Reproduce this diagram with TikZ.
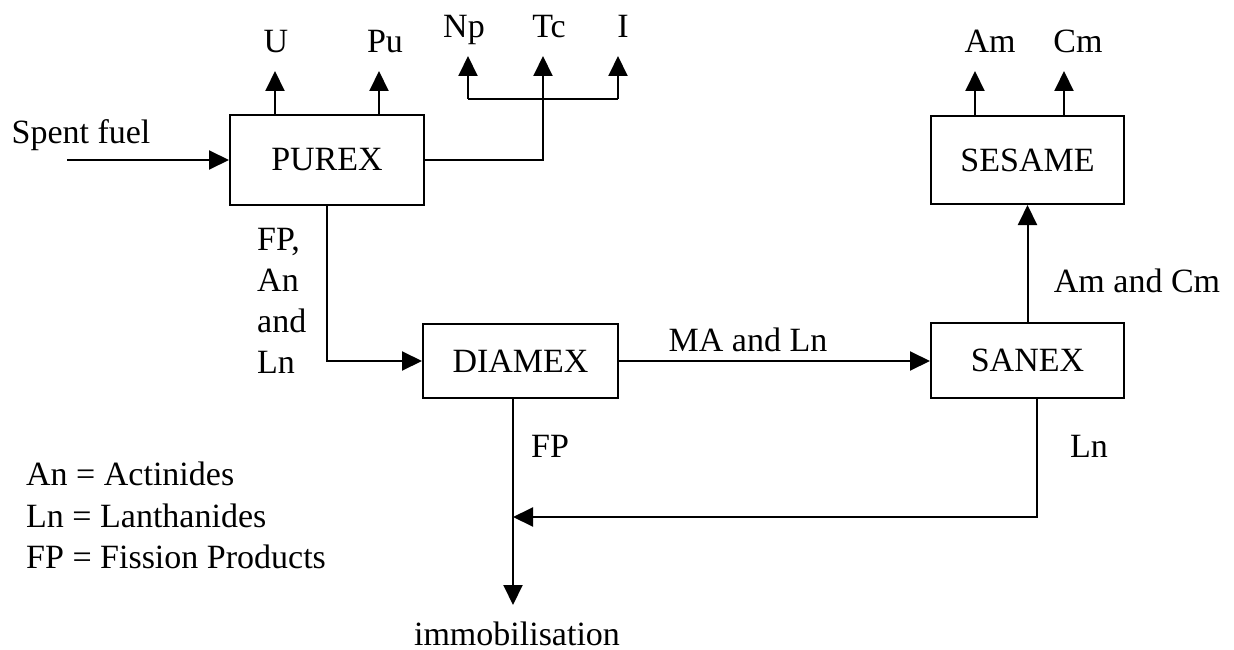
\documentclass[tikz,border=0pt]{standalone}
\usepackage{fontspec}
\setmainfont{Liberation Serif}
\usetikzlibrary{arrows.meta}
\begin{document}
\begin{tikzpicture}[x=1pt,y=-1pt,
  every node/.style={font=\fontsize{34}{41}\selectfont, inner sep=0pt},
  box/.style={draw, line width=2pt, minimum width=#1, inner sep=0pt},
  conn/.style={line width=2pt},
  arr/.style={line width=2pt, -{Triangle[length=20pt,width=19pt]}}]
\useasboundingbox (0,0) rectangle (1234,650);
% boxes
\node[box=194pt, minimum height=89pt] (purex) at (327,160) {PUREX};
\node[box=195pt, minimum height=74pt] (diamex) at (520.5,361) {DIAMEX};
\node[box=193pt, minimum height=75pt] (sanex) at (1027.5,360.5) {SANEX};
\node[box=193pt, minimum height=88pt] (sesame) at (1027.5,160) {SESAME};
% product labels
\node[anchor=base] (u) at (276,53) {U};
\node[anchor=base] (pu) at (385,53) {Pu};
\node[anchor=base] (np) at (464,38) {Np};
\node[anchor=base] (tc) at (549,38) {Tc};
\node[anchor=base] (i) at (623,38) {I};
\node[anchor=base] (am) at (990,53) {Am};
\node[anchor=base] (cm) at (1078,53) {Cm};
% other labels
\node[anchor=base] (sfl) at (81,143) {Spent fuel};
\node[align=left, anchor=west] (fpan) at (257,301) {FP,\\An\\and\\Ln};
\node[anchor=base] (maln) at (748,351) {MA and Ln};
\node[anchor=base] (amcm) at (1137,292) {Am and Cm};
\node[anchor=base] (fp) at (550,457) {FP};
\node[anchor=base] (ln) at (1089,457) {Ln};
\node[anchor=base] (immo) at (517,645) {immobilisation};
\node[anchor=base west] (leg1) at (26,485) {An = Actinides};
\node[anchor=base west] (leg2) at (26,527) {Ln = Lanthanides};
\node[anchor=base west] (leg3) at (26,568) {FP = Fission Products};
% coordinates
\coordinate (sf) at (67,160);
\coordinate (uT) at (275,71);
\coordinate (puT) at (379,71);
\coordinate (npT) at (468,56);
\coordinate (tcT) at (543,56);
\coordinate (iT) at (618,56);
\coordinate (npB) at (468,99);
\coordinate (iB) at (618,99);
\coordinate (amT) at (975,71);
\coordinate (cmT) at (1064,71);
\coordinate (immT) at (513,605);
\coordinate (jn) at (513,517);
\coordinate (sx) at (1037,517);
% connectors
\draw[arr] (sf) -- (purex.west);
\draw[arr] (uT |- purex.north) -- (uT);
\draw[arr] (puT |- purex.north) -- (puT);
\draw[arr] (purex.east) -| (tcT);
\draw[conn] (npB) -- (iB);
\draw[arr] (npB) -- (npT);
\draw[arr] (iB) -- (iT);
\draw[arr] (purex.south) |- (diamex.west);
\draw[arr] (diamex.east) -- (sanex.west |- diamex.east);
\draw[arr] (sanex.north) -- (sesame.south);
\draw[arr] (amT |- sesame.north) -- (amT);
\draw[arr] (cmT |- sesame.north) -- (cmT);
\draw[arr] (immT |- diamex.south) -- (immT);
\draw[arr] (sx |- sanex.south) |- (jn);
\end{tikzpicture}
\end{document}
